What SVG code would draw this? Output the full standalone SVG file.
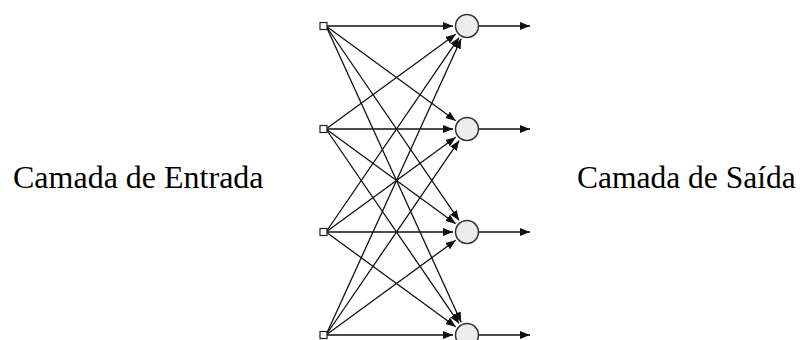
<svg xmlns="http://www.w3.org/2000/svg" width="800" height="340" viewBox="0 0 800 340">
<style>
.e{stroke:#111;stroke-width:1.3;fill:none;marker-end:url(#ah)}
.in{fill:#fff;stroke:#222;stroke-width:1.2}
.out{fill:#ececec;stroke:#333;stroke-width:1.5}
.lbl{font-family:"Liberation Serif","Times New Roman",serif;font-size:31.5px;fill:#000}
</style>
<defs>
<marker id="ah" markerUnits="userSpaceOnUse" markerWidth="11" markerHeight="8" refX="10" refY="4" orient="auto">
<path d="M0,0 L10,4 L0,8 z" fill="#111"/>
</marker>
</defs>
<rect width="800" height="340" fill="#fff"/>
<g id="connectors">
<line class="e" x1="326" y1="26" x2="453" y2="26"/>
<line class="e" x1="326" y1="129" x2="455.7" y2="34.26"/>
<line class="e" x1="326" y1="232" x2="459.1" y2="37.53"/>
<line class="e" x1="326" y1="335" x2="461.2" y2="38.73"/>
<line class="e" x1="326" y1="26" x2="455.7" y2="120.74"/>
<line class="e" x1="326" y1="129" x2="453" y2="129"/>
<line class="e" x1="326" y1="232" x2="455.7" y2="137.26"/>
<line class="e" x1="326" y1="335" x2="459.1" y2="140.53"/>
<line class="e" x1="326" y1="26" x2="459.1" y2="220.47"/>
<line class="e" x1="326" y1="129" x2="455.7" y2="223.74"/>
<line class="e" x1="326" y1="232" x2="453" y2="232"/>
<line class="e" x1="326" y1="335" x2="455.7" y2="240.26"/>
<line class="e" x1="326" y1="26" x2="461.2" y2="322.27"/>
<line class="e" x1="326" y1="129" x2="459.1" y2="323.47"/>
<line class="e" x1="326" y1="232" x2="455.7" y2="326.74"/>
<line class="e" x1="326" y1="335" x2="453" y2="335"/>
<line class="e" x1="479" y1="26" x2="530" y2="26"/>
<line class="e" x1="479" y1="129" x2="530" y2="129"/>
<line class="e" x1="479" y1="232" x2="530" y2="232"/>
<line class="e" x1="479" y1="335" x2="530" y2="335"/>
</g>
<g id="input1"><rect class="in" x="320" y="22.5" width="7" height="7"/></g>
<g id="input2"><rect class="in" x="320" y="125.5" width="7" height="7"/></g>
<g id="input3"><rect class="in" x="320" y="228.5" width="7" height="7"/></g>
<g id="input4"><rect class="in" x="320" y="331.5" width="7" height="7"/></g>
<g id="output1"><circle class="out" cx="467" cy="26" r="11.5"/></g>
<g id="output2"><circle class="out" cx="467" cy="129" r="11.5"/></g>
<g id="output3"><circle class="out" cx="467" cy="232" r="11.5"/></g>
<g id="output4"><circle class="out" cx="467" cy="335" r="11.5"/></g>
<g id="label-input"><text class="lbl" x="13" y="188" style="font-size:32px">Camada de Entrada</text></g>
<g id="label-output"><text class="lbl" x="577" y="188">Camada de Saída</text></g>
</svg>
